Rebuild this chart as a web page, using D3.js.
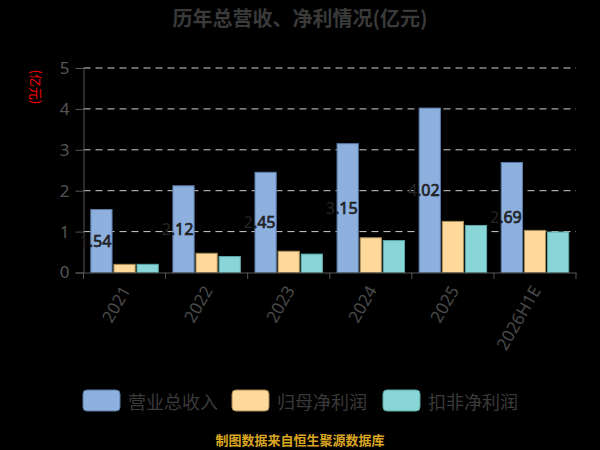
<!DOCTYPE html>
<html>
<head>
<meta charset="utf-8">
<script src="https://cdn.jsdelivr.net/npm/d3@7"></script>
<style>
  html, body { margin: 0; padding: 0; background: #000; }
  text { font-family: "Noto Sans CJK SC", "Noto Sans", sans-serif; }
</style>
</head>
<body>
<div id="chart"></div>
<script>
// chart data
var years = ["2021", "2022", "2023", "2024", "2025", "2026H1E"];
var seriesNames = ["营业总收入", "归母净利润", "扣非净利润"];
var revenue = [1.54, 2.12, 2.45, 3.15, 4.02, 2.69];
var netProfit = [0.20, 0.47, 0.52, 0.85, 1.25, 1.03];
var deducted = [0.20, 0.39, 0.45, 0.78, 1.15, 0.99];
var yTicks = [0, 1, 2, 3, 4, 5];

(function() {
var width = 600,
    height = 450;

var fills = ["#8eb0de", "#ffd99b", "#88d6d8"];
var strokes = ["#5a7aa8", "#a58a55", "#5fa8a8"];

var svg = d3.select("#chart").append("svg")
    .attr("width", width)
    .attr("height", height)
    .style("background", "#000");

var x = d3.scaleBand()
    .domain(years)
    .range([83.5, 576]);

var x1 = d3.scaleBand()
    .domain(seriesNames)
    .range([7.3, x.bandwidth() - 7.3])
    .paddingInner(0.08);

var y = d3.scaleLinear()
    .domain([0, 5])
    .range([272.5, 68]);

// title
svg.append("text")
    .attr("x", 300)
    .attr("y", 26)
    .attr("text-anchor", "middle")
    .style("font-size", "20px")
    .style("font-weight", "bold")
    .style("fill", "#3a3a3a")
    .text("历年总营收、净利情况(亿元)");

// y axis name
svg.append("text")
    .attr("transform", "translate(36,87) rotate(90)")
    .attr("text-anchor", "middle")
    .attr("dominant-baseline", "central")
    .style("font-size", "13px")
    .style("fill", "#ff0000")
    .text("(亿元)");

// grid lines
svg.append("g")
    .selectAll("line")
    .data(yTicks.filter(function(d) { return d > 0; }))
    .enter()
    .append("line")
    .attr("x1", 83.5)
    .attr("x2", 576)
    .attr("y1", function(d) { return y(d); })
    .attr("y2", function(d) { return y(d); })
    .style("stroke", "#d0d0d0")
    .style("stroke-width", 1)
    .style("stroke-dasharray", "7,5");

// y axis
var yAxis = svg.append("g")
    .attr("transform", "translate(83.5,0)")
    .call(d3.axisLeft(y).tickValues(yTicks).tickSize(8).tickPadding(6).tickFormat(d3.format("d")));
yAxis.select(".domain").style("stroke", "#555");
yAxis.selectAll(".tick line").style("stroke", "#555");
yAxis.selectAll(".tick text")
    .style("font-size", "17px")
    .style("fill", "#555")
    .style("font-family", "'Noto Sans', sans-serif");

// bars
var table = years.map(function(yr, i) {
    return { year: yr, values: [revenue[i], netProfit[i], deducted[i]] };
});

var groups = svg.append("g")
    .selectAll("g")
    .data(table)
    .enter()
    .append("g")
    .attr("transform", function(d) { return "translate(" + x(d.year) + ",0)"; });

groups.selectAll("rect")
    .data(function(d) { return d.values.map(function(v, k) { return { k: k, v: v }; }); })
    .enter()
    .append("rect")
    .attr("x", function(d) { return x1(seriesNames[d.k]); })
    .attr("width", x1.bandwidth())
    .attr("y", function(d) { return y(d.v); })
    .attr("height", function(d) { return y(0) - y(d.v); })
    .style("fill", function(d) { return fills[d.k]; })
    .style("stroke", function(d) { return strokes[d.k]; })
    .style("stroke-width", 1);

// value labels on revenue bars (near-black text, lost on the background)
groups.append("text")
    .attr("x", function(d) { return x1(seriesNames[0]) + x1.bandwidth() / 2 - 6; })
    .attr("y", function(d) { return (y(d.values[0]) + y(0)) / 2; })
    .attr("text-anchor", "middle")
    .attr("dominant-baseline", "central")
    .style("font-size", "16px")
    .style("fill", "#252525")
    .style("stroke", "#000")
    .style("stroke-width", 0.6)
    .style("paint-order", "stroke")
    .style("font-family", "'Noto Sans', sans-serif")
    .text(function(d) { return d.values[0].toFixed(2); });

// x axis
var xAxis = svg.append("g")
    .attr("transform", "translate(0,272.5)")
    .call(d3.axisBottom(x).tickSize(0).tickPadding(0));
xAxis.select(".domain").style("stroke", "#555");
xAxis.selectAll(".tick text").remove();

svg.append("g")
    .selectAll("line")
    .data(years.concat(["end"]))
    .enter()
    .append("line")
    .attr("x1", function(d, i) { return i < years.length ? x(d) : x.range()[1]; })
    .attr("x2", function(d, i) { return i < years.length ? x(d) : x.range()[1]; })
    .attr("y1", 272.5)
    .attr("y2", 279)
    .style("stroke", "#555");

svg.append("g")
    .selectAll("text")
    .data(years)
    .enter()
    .append("text")
    .attr("transform", function(d) {
        return "translate(" + (x(d) + x.bandwidth() / 2 + 1) + ",287) rotate(-60)";
    })
    .attr("text-anchor", "end")
    .attr("dominant-baseline", "central")
    .style("font-size", "17px")
    .style("fill", "#4a4a4a")
    .style("font-family", "'Noto Sans', sans-serif")
    .text(function(d) { return d; });

// legend
var legendX = [83, 232, 383];
var legend = svg.append("g")
    .selectAll("g")
    .data(seriesNames)
    .enter()
    .append("g")
    .attr("transform", function(d, i) { return "translate(" + legendX[i] + ",390)"; });

legend.append("rect")
    .attr("width", 37)
    .attr("height", 21)
    .attr("rx", 4)
    .style("fill", function(d, i) { return fills[i]; })
    .style("stroke", function(d, i) { return strokes[i]; });

legend.append("text")
    .attr("x", 45)
    .attr("y", 11)
    .attr("dominant-baseline", "central")
    .style("font-size", "18px")
    .style("fill", "#3a3a3a")
    .text(function(d) { return d; });

// source note
svg.append("text")
    .attr("x", 300)
    .attr("y", 445)
    .attr("text-anchor", "middle")
    .style("font-size", "13px")
    .style("font-weight", "bold")
    .style("fill", "#daa520")
    .text("制图数据来自恒生聚源数据库");
})();
</script>
</body>
</html>
